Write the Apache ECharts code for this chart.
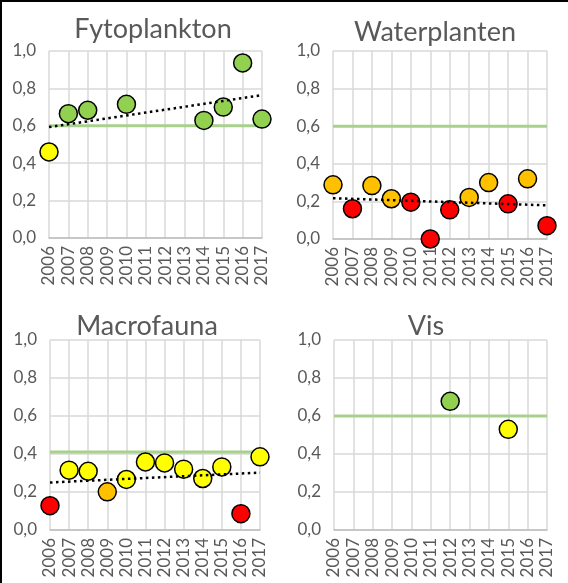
<!DOCTYPE html>
<html><head><meta charset="utf-8">
<script src="https://cdn.jsdelivr.net/npm/echarts@6/dist/echarts.min.js"></script>
<style>html,body{margin:0;padding:0;background:#fff}#c{width:568px;height:583px}</style>
</head><body><div id="c"></div>
<script>
const years = ['2006','2007','2008','2009','2010','2011','2012','2013','2014','2015','2016','2017'];
const yTicks = [0, 0.2, 0.4, 0.6, 0.8, 1.0];
const titles = ['Fytoplankton', 'Waterplanten', 'Macrofauna', 'Vis'];

const fytoYears = ['2006','2007','2008','2010','2014','2015','2016','2017'];
const fytoValues = [0.46, 0.665, 0.683, 0.715, 0.629, 0.70, 0.936, 0.636];
const fytoStatus = ['yellow','green','green','green','green','green','green','green'];
const fytoTrend = [0.593, 0.764];
const fytoGoal = 0.6;

const wpYears = years;
const wpValues = [0.288, 0.161, 0.284, 0.214, 0.196, 0.0, 0.155, 0.221, 0.30, 0.187, 0.32, 0.071];
const wpStatus = ['orange','red','orange','orange','red','red','red','orange','orange','red','orange','red'];
const wpTrend = [0.217, 0.179];
const wpGoal = 0.6;

const mfYears = years;
const mfValues = [0.128, 0.315, 0.309, 0.201, 0.266, 0.358, 0.353, 0.32, 0.271, 0.332, 0.086, 0.385];
const mfStatus = ['red','yellow','yellow','orange','yellow','yellow','yellow','yellow','yellow','yellow','red','yellow'];
const mfTrend = [0.25, 0.302];
const mfGoal = 0.41;

const visYears = ['2012','2015'];
const visValues = [0.677, 0.53];
const visStatus = ['green','yellow'];
const visGoal = 0.6;

const statusColor = {green:'#92D050', yellow:'#FFFF00', orange:'#FFC000', red:'#FF0000'};
const FONT = 'Lato';
const TXT = '#595959';

const grids = [
  {left:49, top:51, width:213, height:187},
  {left:333, top:51, width:214, height:188},
  {left:50, top:340, width:210, height:190},
  {left:334, top:340, width:213, height:190}
];
const titlePos = [
  {x:153, y:29}, {x:435, y:32}, {x:147, y:326}, {x:426, y:326}
];

const panels = [
  {yrs: fytoYears, vals: fytoValues, st: fytoStatus, trend: fytoTrend, goal: fytoGoal},
  {yrs: wpYears, vals: wpValues, st: wpStatus, trend: wpTrend, goal: wpGoal},
  {yrs: mfYears, vals: mfValues, st: mfStatus, trend: mfTrend, goal: mfGoal},
  {yrs: visYears, vals: visValues, st: visStatus, trend: null, goal: visGoal}
];

const option = {
  animation: false,
  backgroundColor: '#fff',
  textStyle: {fontFamily: FONT},
  grid: grids,
  xAxis: grids.map((g, i) => ({
    type: 'category', gridIndex: i, data: years, boundaryGap: false,
    axisLine: {show: true, lineStyle: {color: '#BFBFBF', width: 1.5}},
    axisTick: {show: false},
    splitLine: {show: true, lineStyle: {color: '#D9D9D9', width: 1.5}},
    axisLabel: {rotate: 90, interval: 0, fontSize: 17, color: TXT, fontFamily: FONT, margin: 8}
  })),
  yAxis: grids.map((g, i) => ({
    type: 'value', gridIndex: i, min: 0, max: 1, interval: 0.2,
    axisLine: {show: false}, axisTick: {show: false},
    splitLine: {show: true, lineStyle: {color: '#D9D9D9', width: 1.5}},
    axisLabel: {fontSize: 17, color: TXT, fontFamily: FONT, margin: 13,
      formatter: v => yTicks.includes(Math.round(v*10)/10) ? v.toFixed(1).replace('.', ',') : ''}
  })),
  graphic: [
    {type: 'rect', shape: {x: 0, y: 0, width: 568, height: 2}, style: {fill: '#000'}, z: 100},
    {type: 'rect', shape: {x: 0, y: 0, width: 2, height: 583}, style: {fill: '#000'}, z: 100}
  ].concat(titles.map((t, i) => ({
    type: 'text', x: titlePos[i].x, y: titlePos[i].y, z: 100,
    style: {text: t, fill: TXT, font: 'normal 27px ' + FONT, align: 'center', verticalAlign: 'middle'}
  }))),
  series: []
};

panels.forEach((p, i) => {
  option.series.push({
    type: 'line', xAxisIndex: i, yAxisIndex: i, symbol: 'none', silent: true,
    data: [[years[0], p.goal], [years[years.length-1], p.goal]],
    lineStyle: {color: '#A9D18E', width: 3}, z: 2
  });
  option.series.push({
    type: 'scatter', xAxisIndex: i, yAxisIndex: i, symbolSize: 18, z: 3,
    data: p.yrs.map((y, k) => ({value: [y, p.vals[k]], itemStyle: {color: statusColor[p.st[k]]}})),
    itemStyle: {borderColor: '#000', borderWidth: 1.5, opacity: 1}
  });
  if (p.trend) {
    option.series.push({
      type: 'line', xAxisIndex: i, yAxisIndex: i, symbol: 'none', silent: true, z: 4,
      data: [[years[0], p.trend[0]], [years[years.length-1], p.trend[1]]],
      lineStyle: {color: '#000', width: 2.5, type: [2.5, 3.5], cap: 'butt'}
    });
  }
});

const chart = echarts.init(document.getElementById('c'));
chart.setOption(option);
</script></body></html>
